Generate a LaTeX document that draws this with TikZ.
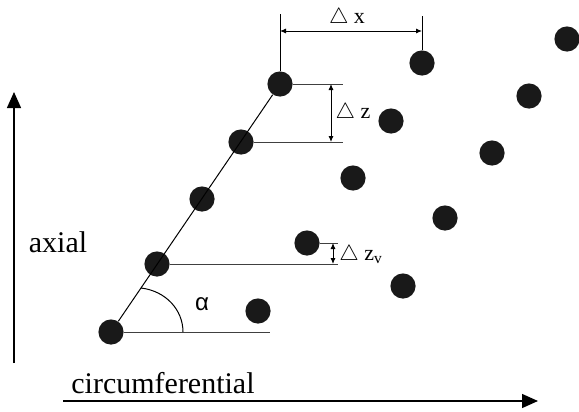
\documentclass[tikz,border=0pt]{standalone}
\usepackage{fontspec}
\setmainfont{Liberation Serif}
\newfontfamily\greekfont{Liberation Sans}
\usetikzlibrary{arrows.meta,calc}

\begin{document}
\begin{tikzpicture}[x=0.5pt, y=-0.5pt,
        dot/.style={circle, fill=black!90, inner sep=0pt, minimum size=12.6pt},
        guide/.style={draw=black!75, line width=0.5pt},
        dim/.style={{Latex[length=3pt,width=2.6pt]}-{Latex[length=3pt,width=2.6pt]}, line width=0.5pt},
        axis/.style={-{Triangle[length=8pt,width=7pt]}, line width=0.7pt},
        lbl/.style={font=\fontsize{11}{13}\selectfont, inner sep=0pt},
        big/.style={font=\fontsize{15}{18}\selectfont, inner sep=0pt}]
        \useasboundingbox (0,0) rectangle (579,412);

        % dots along the line
        \node[dot] (a1) at (111,332) {};
        \node[dot] (a2) at (157,264) {};
        \node[dot] (a3) at (202,199) {};
        \node[dot] (a4) at (241,142) {};
        \node[dot] (a5) at (280,84) {};
        % second row
        \node[dot] (b1) at (307,243) {};
        \node[dot] (b2) at (353,178) {};
        \node[dot] (b3) at (391,121) {};
        \node[dot] (b4) at (422,63) {};
        % third row
        \node[dot] (c1) at (258,311) {};
        \node[dot] (c2) at (403,286) {};
        \node[dot] (c3) at (445,218) {};
        \node[dot] (c4) at (492,153) {};
        \node[dot] (c5) at (529,96) {};
        \node[dot] (c6) at (567,39) {};

        \draw[line width=0.5pt] (a1) -- (a5);

        % delta x
        \coordinate (xl) at (280,14);
        \coordinate (xr) at (422,16);
        \coordinate (xa) at (280,31);
        \coordinate (xb) at (422,31);
        \draw[line width=0.5pt] (a5.north) -- (xl);
        \draw[line width=0.5pt] (b4.north) -- (xr);
        \draw[dim] (xa) -- (xb);
        \node[lbl] (dx) at (347,18) {$\triangle$\ x};

        % delta z
        \coordinate (zt) at (343,84);
        \coordinate (zb) at (343,142);
        \coordinate (za) at (331,84);
        \coordinate (zc) at (331,142);
        \draw[guide] (a5.east) -- (zt);
        \draw[guide] (a4.east) -- (zb);
        \draw[dim] (za) -- (zc);
        \node[lbl] (dz) at (353,113) {$\triangle$\ z};

        % delta z_v
        \coordinate (vt) at (338,243);
        \coordinate (vb) at (338,264);
        \coordinate (va) at (333,243);
        \coordinate (vc) at (333,264);
        \draw[guide] (b1.east) -- (vt);
        \draw[guide] (a2.east) -- (vb);
        \draw[dim] (va) -- (vc);
        \node[lbl] (dzv) at (361,255) {$\triangle$\ z\textsubscript{v}};

        % angle
        \coordinate (bl) at (270,332);
        \coordinate (arcs) at (141,288);
        \coordinate (arce) at (183,332);
        \draw[guide] (a1.east) -- (bl);
        \draw[line width=0.5pt] (arcs) .. controls (166,291) and (183,310) .. (arce);
        \node[font=\greekfont\fontsize{12}{14}\selectfont, inner sep=0pt] (alpha) at (202,304) {α};

        % axes
        \coordinate (ax0) at (14,363);
        \coordinate (ax1) at (14,92);
        \coordinate (cx0) at (63,401);
        \coordinate (cx1) at (538,401);
        \draw[axis] (ax0) -- (ax1);
        \draw[axis] (cx0) -- (cx1);
        \node[big] (axial) at (58,242) {axial};
        \node[big] (circ) at (163,383) {circumferential};
    \end{tikzpicture}
\end{document}
